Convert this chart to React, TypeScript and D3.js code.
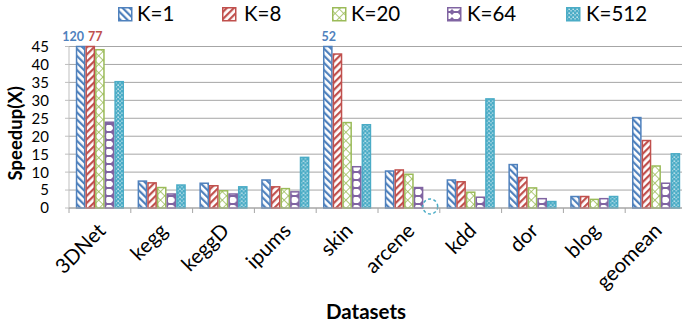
import * as d3 from 'd3'

const DATASETS = ['3DNet', 'kegg', 'keggD', 'ipums', 'skin', 'arcene', 'kdd', 'dor', 'blog', 'geomean']
const SERIES = ['K=1', 'K=8', 'K=20', 'K=64', 'K=512']
const K1 = [120, 7.5, 6.9, 7.8, 52, 10.3, 7.8, 12.1, 3.2, 25.2]
const K8 = [77, 7.0, 6.2, 5.9, 42.9, 10.6, 7.3, 8.5, 3.2, 18.8]
const K20 = [44.1, 5.7, 4.8, 5.4, 23.8, 9.4, 4.4, 5.6, 2.4, 11.7]
const K64 = [23.9, 3.9, 3.9, 4.5, 11.5, 5.7, 3.0, 2.6, 2.6, 6.9]
const K512 = [35.2, 6.4, 5.9, 14.1, 23.2, null, 30.4, 1.8, 3.2, 15.1]
const VALUES: (number | null)[][] = [K1, K8, K20, K64, K512]
const Y_TICKS = [0, 5, 10, 15, 20, 25, 30, 35, 40, 45]

const COLORS = ['#4f81bd', '#c0504d', '#9bbb59', '#8064a2', '#4bacc6']
const FONT = 'Lato, "Open Sans", sans-serif'

const W = 682
const H = 329
const margin = { left: 69, right: -5, top: 46.5, bottom: 121 }

function Patterns() {
  return (
    <defs>
      <pattern id="p0" width={5} height={5} patternUnits="userSpaceOnUse" patternTransform="rotate(-45)">
        <rect width={5} height={5} fill="#fff" />
        <rect x={0} width={2.2} height={5} fill={COLORS[0]} />
      </pattern>
      <pattern id="p1" width={5} height={5} patternUnits="userSpaceOnUse" patternTransform="rotate(45)">
        <rect width={5} height={5} fill="#fff" />
        <rect x={0} width={2.2} height={5} fill={COLORS[1]} />
      </pattern>
      <pattern id="p2" width={6} height={6} patternUnits="userSpaceOnUse" patternTransform="rotate(45)">
        <rect width={6} height={6} fill="#fff" />
        <rect x={0} width={1} height={6} fill={COLORS[2]} opacity={0.8} />
        <rect y={0} width={6} height={1} fill={COLORS[2]} opacity={0.8} />
      </pattern>
      <pattern id="p3" width={8} height={8} patternUnits="userSpaceOnUse">
        <rect width={8} height={8} fill="#fff" />
        <path d="M4,1 L7,4 L4,7 L1,4 Z" fill={COLORS[3]} />
        <rect x={0} y={3} width={8} height={2} fill={COLORS[3]} />
      </pattern>
      <pattern id="p4" width={4} height={4} patternUnits="userSpaceOnUse">
        <rect width={4} height={4} fill={COLORS[4]} />
        <rect x={0.5} y={0.5} width={1.3} height={1.3} fill="#fff" />
        <rect x={2.5} y={2.3} width={1.1} height={1.1} fill="#fff" />
      </pattern>
    </defs>
  )
}

export default function App() {
  const x = d3.scaleBand<string>().domain(DATASETS).range([margin.left, W - margin.right])
  const bw = x.bandwidth()
  const gap = bw * 0.11
  const x1 = d3.scaleBand<string>().domain(SERIES).range([gap, bw - gap])
  const y = d3.scaleLinear().domain([0, 45]).range([H - margin.bottom, margin.top]).clamp(true)
  const y0 = y(0)

  const legendX = [118, 222, 332, 447, 566]
  const legendTextX = [137, 244, 351, 467, 586]

  return (
    <svg width={W} height={H} style={{ position: 'absolute', left: 0, top: 0, background: '#fff' }} fontFamily={FONT}>
      <Patterns />
      {/* gridlines */}
      {Y_TICKS.map(t => (
        <line key={t} x1={margin.left} x2={W} y1={y(t)} y2={y(t)} stroke="#a6a6a6" strokeWidth={1} />
      ))}
      {/* y axis */}
      <line x1={margin.left} x2={margin.left} y1={y(45)} y2={y0} stroke="#bfbfbf" />
      {Y_TICKS.map(t => (
        <g key={'yt' + t}>
          <line x1={margin.left - 4} x2={margin.left} y1={y(t)} y2={y(t)} stroke="#bfbfbf" />
          <text x={49} y={y(t)} dy="0.36em" textAnchor="end" fontSize={15} fill="#000">{t}</text>
        </g>
      ))}
      {/* bars */}
      {DATASETS.map((d, i) => (
        <g key={d} transform={`translate(${x(d)},0)`}>
          {SERIES.map((s, j) => {
            const v = VALUES[j][i]
            const bx = x1(s)!
            if (v == null) {
              return (
                <circle key={s} cx={bx + x1.bandwidth() / 2 + 2} cy={y0 - 1.5} r={7.5}
                  fill="none" stroke={COLORS[4]} strokeWidth={1.5} strokeDasharray="3 2.5" />
              )
            }
            const top = y(v)
            return (
              <rect key={s} x={bx + 0.75} y={top} width={x1.bandwidth() - 1.5} height={y0 - top}
                fill={`url(#p${j})`} stroke={COLORS[j]} strokeWidth={1.5} />
            )
          })}
        </g>
      ))}
      {/* x axis */}
      <line x1={margin.left} x2={W} y1={y0} y2={y0} stroke="#a6a6a6" />
      {DATASETS.map(d => (
        <line key={'xt' + d} x1={x(d)!} x2={x(d)!} y1={y0} y2={y0 + 5} stroke="#a6a6a6" />
      ))}
      {DATASETS.map(d => (
        <text key={'xl' + d} transform={`translate(${x(d)! + bw / 2 + 7},${y0 + 24}) rotate(-45)`}
          textAnchor="end" fontSize={20.5} fill="#000">{d}</text>
      ))}
      {/* clipped value labels */}
      <text x={84} y={41} textAnchor="end" fontSize={12.5} fontWeight="bold" fill={COLORS[0]}>120</text>
      <text x={88} y={41} textAnchor="start" fontSize={12.5} fontWeight="bold" fill={COLORS[1]}>77</text>
      <text x={x('skin')! + x1('K=1')! + x1.bandwidth() / 2 + 1} y={41} textAnchor="middle" fontSize={12.5} fontWeight="bold" fill={COLORS[0]}>52</text>
      {/* axis titles */}
      <text transform={`translate(22,${(y(45) + y0) / 2 + 6}) rotate(-90)`} textAnchor="middle" fontSize={18.5} fontWeight="bold" fill="#000">Speedup(X)</text>
      <text x={366} y={319} textAnchor="middle" fontSize={20.5} fontWeight="bold" fill="#000">Datasets</text>
      {/* legend */}
      {SERIES.map((s, j) => (
        <g key={'lg' + s}>
          <rect x={legendX[j] + 0.75} y={7.75} width={13} height={13} fill={`url(#p${j})`} stroke={COLORS[j]} strokeWidth={1.5} />
          <text x={legendTextX[j]} y={14} dy="0.36em" fontSize={20.5} fill="#000">{s}</text>
        </g>
      ))}
    </svg>
  )
}
